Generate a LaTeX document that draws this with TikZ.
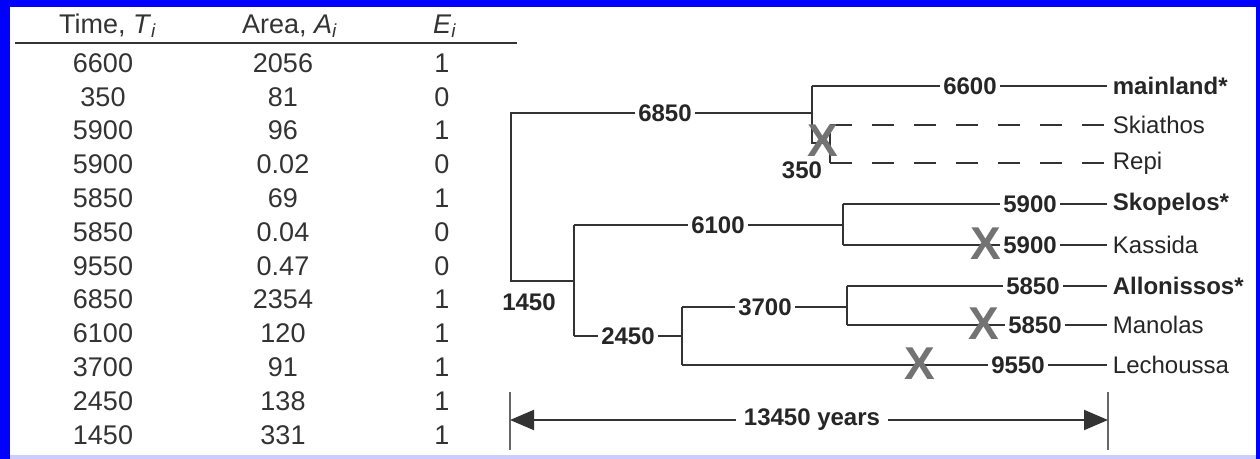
\documentclass[tikz,border=0pt]{standalone}
\usepackage{fontspec}
\setmainfont{Liberation Sans}
\usetikzlibrary{arrows.meta}
\usetikzlibrary{positioning}

\begin{document}
\begin{tikzpicture}
    [
    x=0.5pt,y=-0.5pt,
    every node/.style={font=\fontsize{12}{14}\selectfont},
    cell/.style={text=black!80,inner sep=0pt,font=\fontsize{13.5}{15}\selectfont},
    branch/.style={line width=1pt,draw=black!80},
    lost/.style={branch,dash pattern=on 11pt off 10pt},
    num/.style={fill=white,text=black!85,inner sep=1.5pt,font=\fontsize{12}{14}\selectfont\bfseries},
    leaf/.style={anchor=west,inner sep=2.75pt,text=black!85},
    gone/.style={text=black!55,inner sep=0pt,font=\fontsize{23}{23}\selectfont\bfseries},
    tick/.style={line width=0.8pt,draw=black!60},
    ]
    \useasboundingbox (0,0) rectangle (1260,459);
    \fill [white] (0,0) rectangle (1260,459);
    \fill [blue!20] (0,455) rectangle (1260,459);
    \fill [blue] (0,0) rectangle (1260,7);
    \fill [blue] (0,0) rectangle (10,459);
    \fill [blue] (1256,0) rectangle (1260,459);

    \node (ht) at (108,26) [cell] {Time, \textit{T}\textsubscript{\textit{i}}};
    \node (ha) at (290,26) [cell] {Area, \textit{A}\textsubscript{\textit{i}}};
    \node (he) at (445,26) [cell] {\textit{E}\textsubscript{\textit{i}}};
    \coordinate (rl) at (15,43);
    \coordinate (rr) at (517,43);
    \draw [branch] (rl) -- (rr);

    \node (t1) at (103,63) [cell] {6600};
    \node (a1) at (283,63) [cell] {2056};
    \node (e1) at (442,63) [cell] {1};
    \node (t2) at (103,96.8) [cell] {350};
    \node (a2) at (283,96.8) [cell] {81};
    \node (e2) at (442,96.8) [cell] {0};
    \node (t3) at (103,130.6) [cell] {5900};
    \node (a3) at (283,130.6) [cell] {96};
    \node (e3) at (442,130.6) [cell] {1};
    \node (t4) at (103,164.4) [cell] {5900};
    \node (a4) at (283,164.4) [cell] {0.02};
    \node (e4) at (442,164.4) [cell] {0};
    \node (t5) at (103,198.2) [cell] {5850};
    \node (a5) at (283,198.2) [cell] {69};
    \node (e5) at (442,198.2) [cell] {1};
    \node (t6) at (103,232) [cell] {5850};
    \node (a6) at (283,232) [cell] {0.04};
    \node (e6) at (442,232) [cell] {0};
    \node (t7) at (103,265.8) [cell] {9550};
    \node (a7) at (283,265.8) [cell] {0.47};
    \node (e7) at (442,265.8) [cell] {0};
    \node (t8) at (103,299.6) [cell] {6850};
    \node (a8) at (283,299.6) [cell] {2354};
    \node (e8) at (442,299.6) [cell] {1};
    \node (t9) at (103,333.4) [cell] {6100};
    \node (a9) at (283,333.4) [cell] {120};
    \node (e9) at (442,333.4) [cell] {1};
    \node (t10) at (103,367.2) [cell] {3700};
    \node (a10) at (283,367.2) [cell] {91};
    \node (e10) at (442,367.2) [cell] {1};
    \node (t11) at (103,401) [cell] {2450};
    \node (a11) at (283,401) [cell] {138};
    \node (e11) at (442,401) [cell] {1};
    \node (t12) at (103,434.8) [cell] {1450};
    \node (a12) at (283,434.8) [cell] {331};
    \node (e12) at (442,434.8) [cell] {1};

    \coordinate (r1) at (511,113);
    \coordinate (r2) at (511,281);
    \coordinate (m1) at (812,86);
    \coordinate (m2) at (812,113);
    \coordinate (m3) at (812,143);
    \coordinate (s1) at (830,125);
    \coordinate (s2) at (830,143);
    \coordinate (s3) at (830,163);
    \coordinate (b1) at (574,225);
    \coordinate (b2) at (574,281);
    \coordinate (b3) at (574,336);
    \coordinate (k1) at (843,204);
    \coordinate (k2) at (843,225);
    \coordinate (k3) at (843,245);
    \coordinate (d1) at (682,307);
    \coordinate (d2) at (682,336);
    \coordinate (d3) at (682,365);
    \coordinate (p1) at (847,286);
    \coordinate (p2) at (847,307);
    \coordinate (p3) at (847,325);

    \node (mainland) at (1107,86) [leaf] {\textbf{mainland*}};
    \node (skiathos) at (1107,125) [leaf] {Skiathos};
    \node (repi) at (1107,163) [leaf] {Repi};
    \node (skopelos) at (1107,204) [leaf] {\textbf{Skopelos*}};
    \node (kassida) at (1107,245) [leaf] {Kassida};
    \node (allonissos) at (1107,286) [leaf] {\textbf{Allonissos*}};
    \node (manolas) at (1107,325) [leaf] {Manolas};
    \node (lechoussa) at (1107,365) [leaf] {Lechoussa};

    \draw [branch] (m2) -- (r1) -- (r2) -- (b2);
    \draw [branch] (m1) -- (m3) -- (s2);
    \draw [branch] (s1) -- (s3);
    \draw [branch] (b1) -- (b3);
    \draw [branch] (b1) -- (k2);
    \draw [branch] (k1) -- (k3);
    \draw [branch] (b3) -- (d2);
    \draw [branch] (d1) -- (d3);
    \draw [branch] (d1) -- (p2);
    \draw [branch] (p1) -- (p3);
    \draw [branch] (m1) -- (mainland.west);
    \draw [lost] (s1) -- (skiathos.west);
    \draw [lost] (s3) -- (repi.west);
    \draw [branch] (k1) -- (skopelos.west);
    \draw [branch] (k3) -- (kassida.west);
    \draw [branch] (p1) -- (allonissos.west);
    \draw [branch] (p3) -- (manolas.west);
    \draw [branch] (d3) -- (lechoussa.west);

    \node (n6850) at (665,113) [num] {6850};
    \node (n6600) at (970,86) [num] {6600};
    \node (n350) at (802,170) [num] {350};
    \node (n6100) at (718,225) [num] {6100};
    \node (n1450) at (529,302) [num] {1450};
    \node (n2450) at (628,336) [num] {2450};
    \node (n3700) at (765,307) [num] {3700};
    \node (n5900a) at (1030,204) [num] {5900};
    \node (n5900b) at (1030,245) [num] {5900};
    \node (n5850a) at (1033,286) [num] {5850};
    \node (n5850b) at (1035,325) [num] {5850};
    \node (n9550) at (1018,365) [num] {9550};

    \node (x350) at (823,141) [gone] {X};
    \node (xkas) at (986,244) [gone] {X};
    \node (xman) at (984,324) [gone] {X};
    \node (xlec) at (920,364) [gone] {X};

    \coordinate (lt) at (510,392);
    \coordinate (lb) at (510,450);
    \coordinate (rt) at (1108,392);
    \coordinate (rb) at (1108,450);
    \coordinate (la) at (510,420);
    \coordinate (ra) at (1108,420);
    \draw [tick] (lt) -- (lb);
    \draw [tick] (rt) -- (rb);
    \node (span) at (812,420) [num,inner sep=4pt] {13450 years};
    \draw [branch,-{Triangle[length=12pt,width=10pt]}] (span) -- (la);
    \draw [branch,-{Triangle[length=12pt,width=10pt]}] (span) -- (ra);
\end{tikzpicture}
\end{document}
